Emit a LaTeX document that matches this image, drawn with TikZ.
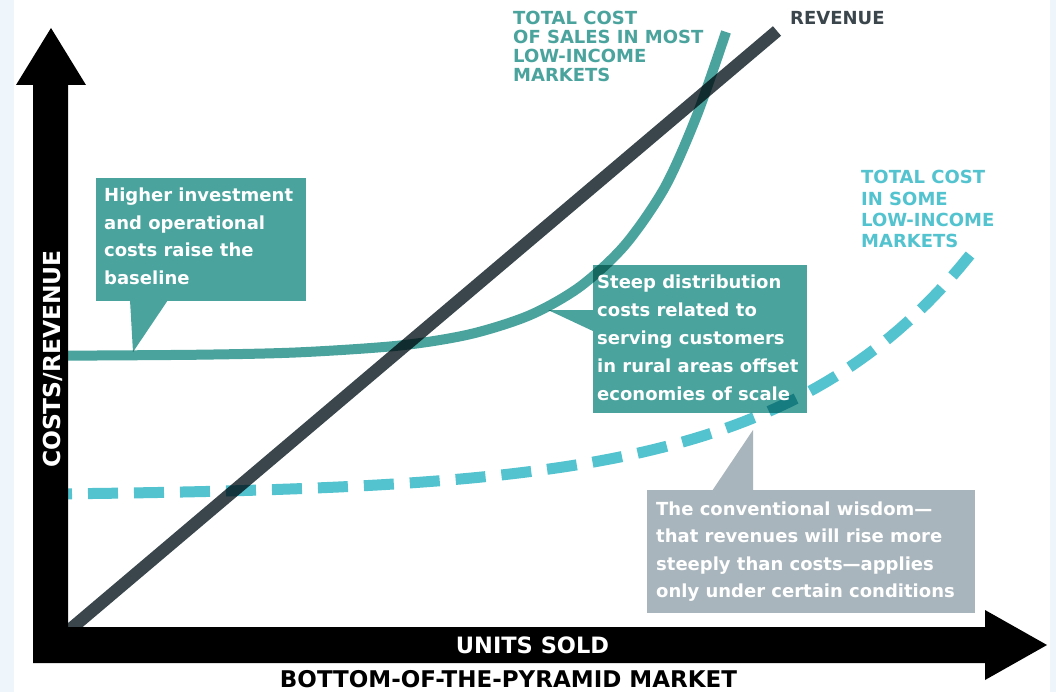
\documentclass[tikz,border=0pt]{standalone}
\usepackage{fontspec}
\setmainfont{DejaVu Sans}
\definecolor{tealc}{HTML}{4AA39D}
\definecolor{cyanc}{HTML}{52C3CF}
\definecolor{darkc}{HTML}{3A464C}
\definecolor{greyc}{HTML}{A9B5BC}
\definecolor{faintc}{HTML}{EEF6FB}
\begin{document}
\begin{tikzpicture}[x=1pt,y=-1pt,
  boxshape/.style={draw=none, inner sep=0pt, anchor=north west, minimum width=#1},
  bodytext/.style={anchor=base west, inner sep=0pt, text=white},
  lbl/.style={anchor=base west, inner sep=0pt},
  axlbl/.style={anchor=base, inner sep=0pt, font=\fontsize{23.4}{28}\selectfont\bfseries}]

% canvas
\fill[white] (0,0) rectangle (1056,692);
\useasboundingbox (0,0) rectangle (1056,692);
\fill[faintc] (0,0) rectangle (14,692);
\fill[faintc] (1050,0) rectangle (1056,692);

% callout boxes
\node[boxshape=210pt, minimum height=123pt, fill=tealc] (box1) at (96,178) {};
\fill[tealc] (130,300) -- (133,352) -- (168,300) -- cycle;
\node[boxshape=214pt, minimum height=148pt, fill=tealc] (box2) at (593,265) {};
\fill[tealc] (548,310) -- (595,310) -- (595,332) -- cycle;
\node[boxshape=328pt, minimum height=123pt, fill=greyc] (box3) at (647,490) {};
\fill[greyc] (712,491) -- (753,430) -- (753,491) -- cycle;

% curves
\begin{scope}[blend mode=multiply]
\draw[cyanc, line width=11pt, dash pattern=on 30pt off 16pt, dash phase=18pt]
  plot[domain=60:970, samples=90] (\x, {496-241*exp(0.0052*(\x-970))});
\draw[tealc, line width=10pt]
  plot[smooth, tension=0.5] coordinates {(60,355.7) (200,354.7) (300,352.3) (400,345.5) (470,334.2) (530,315.1) (580,286.7) (625,245) (665,187) (697,115) (726,32)};
\draw[darkc, line width=12.5pt] (60,638) -- (777,31);
\end{scope}

% axes
\fill[black] (33,663) -- (33,85) -- (16,85) -- (51,28) -- (86,85) -- (68,85) -- (68,627)
  -- (985,627) -- (985,610) -- (1047,645) -- (985,680) -- (985,663) -- cycle;

% axis labels
\node[axlbl, text=white, rotate=90] (ylab) at (60,359) {COSTS/REVENUE};
\node[axlbl, text=white, font=\fontsize{22.5}{27}\selectfont\bfseries] (xlab) at (532.5,653) {UNITS SOLD};
\node[axlbl, text=black, font=\fontsize{23}{28}\selectfont\bfseries] (xcap) at (508.5,687.5) {BOTTOM-OF-THE-PYRAMID MARKET};

% curve labels
\node[lbl, text=tealc] (lblmost) at (513,25) {\parbox[t]{250pt}{\raggedright\fontsize{18}{19}\selectfont\bfseries TOTAL COST\\OF SALES IN MOST\\LOW-INCOME\\MARKETS}};
\node[lbl, text=darkc] (lblrev) at (790,25) {\fontsize{18}{19}\selectfont\bfseries REVENUE};
\node[lbl, text=cyanc] (lblsome) at (861,184) {\parbox[t]{190pt}{\raggedright\fontsize{18}{21.3}\selectfont\bfseries TOTAL COST\\IN SOME\\LOW-INCOME\\MARKETS}};

% callout texts
\node[bodytext] (t1) at (104,202) {\parbox[t]{205pt}{\raggedright\fontsize{18}{27.5}\selectfont\bfseries Higher investment\\and operational\\costs raise the\\baseline}};
\node[bodytext] (t2) at (597,288) {\parbox[t]{210pt}{\raggedright\fontsize{18}{28}\selectfont\bfseries Steep distribution\\costs related to\\serving customers\\in rural areas offset\\economies of scale}};
\node[bodytext] (t3) at (656,515) {\parbox[t]{320pt}{\raggedright\fontsize{18}{27.5}\selectfont\bfseries The conventional wisdom—\\that revenues will rise more\\steeply than costs—applies\\only under certain conditions}};
\end{tikzpicture}
\end{document}
